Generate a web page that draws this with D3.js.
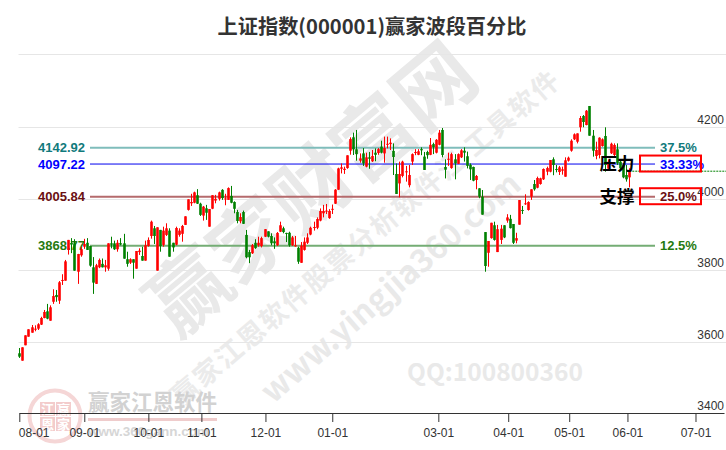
<!DOCTYPE html>
<html><head><meta charset="utf-8">
<script src="https://cdn.jsdelivr.net/npm/d3@7/dist/d3.min.js"></script>
<style>html,body{margin:0;padding:0;background:#fff}svg{display:block}</style>
</head><body><div id="c"></div>
<script>
const opens=[3567.9,3547.2,3590.3,3614.3,3625.5,3635,3636.7,3648,3666.6,3685.3,3659,3712,3731,3715,3771,3771,3857,3876.4,3875.5,3796,3842,3866,3877,3868,3808.4,3762,3808.4,3818,3808.4,3804.5,3875.5,3875.5,3858.8,3876,3875.5,3831,3821.3,3831,3804.5,3851,3840,3827,3868,3896,3917.5,3799,3913,3871,3899,3911,3877,3871.6,3899,3902,3927,3969,3987.4,3989,4010,3986.3,3953,3973.4,3922,3972.3,3995,4000,4025,3998.6,3997,4008,3991,3963,3937,3963,3899,3851,3847.6,3877,3870,3868,3894,3909,3896,3881,3870,3908,3917.5,3904.5,3905,3870,3867,3863,3821,3857,3877,3900,3918.3,3919,3939,3959.5,3964,3946,3971,3986.3,4025.5,4084,4080.6,4086,4134.5,4172,4138.5,4106.6,4127,4090,4116,4105,4129,4128,4146,4127,4151,4153,4134,4069.4,4043,4064,4074,4038,4104,4128,4123,4139,4118,4131,4123,4153,4129,4151,4192.5,4089,4110.5,4086,4110.5,4098,4116,4134.5,4119,4095,4089,4052.6,4029.4,4006,3907,3849,3890,3926,3851,3885,3926,3939,3944,3929.5,3883,3927.6,3968.7,3985.5,3968.7,4006,4041.4,4031,4041.4,4054.5,4075.8,4075.8,4110.5,4083.4,4075,4078.6,4061.8,4106.6,4134.5,4166.4,4159.7,4200,4231.6,4206.4,4259.6,4176.5,4119.7,4122.5,4147.7,4175.7,4084.2,4127.3,4122.5,4138.5,4103.8,4094.6,4066.6,4060];
const closes=[3558.4,3584.6,3618.2,3635,3640.6,3636.7,3649,3666.6,3683.4,3664.7,3696.5,3728,3725,3766.5,3773,3825,3885,3872,3799,3845.6,3859,3873.6,3857,3813,3765.5,3814,3829,3808.4,3814,3875.5,3871.6,3858.8,3877,3872,3832.5,3818,3831,3821.3,3854,3855,3827,3870,3885,3936,3896,3920.3,3868,3911,3917.5,3838,3864,3918.3,3911,3924,3951,3998.6,3991,4018,3986.3,3955,3978,3961,3971.5,4010,4000,4018,4002,4001,4030,3989,3972,3938,3949,3930,3836.4,3836.4,3870,3862,3877,3890,3915,3894,3875.5,3875.5,3904.5,3926,3907,3902.5,3870,3892,3870,3824,3869,3880,3892,3919,3921,3943.5,3966,3966,3967,3966,3972,4025.5,4085,4088,4084,4121.7,4167,4138.5,4125,4113,4099,4116,4112,4119.7,4123,4139,4129,4142,4154,4157,4117,4013.5,4069.4,4104,4077,4066.6,4125,4131,4133,4135.6,4080.6,4122,4151,4144,4165,4185,4122.5,4081.4,4112,4125,4099,4125,4135.6,4129,4092,4082.5,4050.6,4063.8,4006,3955.6,3812,3882,3933,3885,3915,3916.4,3892,3948,3918,3877,3890,3996.6,3967,3987.4,3991,4026.6,4026.6,4058.2,4057.3,4083.4,4086,4108.5,4094.6,4081.4,4088,4082.5,4107.7,4115,4162.5,4180.4,4183,4226,4214.8,4246.4,4176.5,4134.5,4136.5,4170.9,4166.4,4094.6,4103.8,4154,4150.5,4099.3,4085.3,4060,4054.5,4078.6];
const highs=[3582.7,3584.6,3618.2,3635,3647,3646,3652,3670,3689,3706,3702,3747,3745,3770,3789,3829,3885,3890,3887,3846,3866,3888,3890,3868,3837,3818,3833,3833,3829,3875.5,3894,3883,3885,3890,3902,3852,3833.6,3831,3854,3861.5,3866,3883,3892,3939,3924,3920.3,3913,3922,3931.5,3917.5,3877,3922,3917.5,3927,3951,3998.6,4014,4020,4027,3989,3980,3983,3971.5,4010,4011,4020,4027,4014,4032,4036,3993,3969,3959.5,3967,3913,3857,3873.6,3887,3894,3894,3915,3909,3903.5,3892,3907,3936,3922,3905,3908,3896,3896,3866,3879,3892,3903.5,3922,3936,3948,3973,3983,3985.5,3971,3984,4027,4087,4099,4090,4121.7,4172,4185,4192.5,4127,4142,4129,4131,4136.5,4141,4142,4162.5,4174,4174,4169,4155,4099,4104,4106.6,4092,4094.6,4127,4139,4139,4144,4131,4134.5,4170,4157,4167,4192.5,4198,4110.5,4129,4129,4125,4127,4139,4144,4132,4099,4090,4066.6,4029.4,4024.6,3907,3882,3933,3936,3927,3927,3926,3957,3955,3929.5,3905,3996.6,3980,4012.6,3993,4026.6,4052.6,4062,4059,4085,4090,4108.5,4116,4094.6,4092,4090,4116,4118,4166.4,4183,4183,4231.6,4234.4,4248.4,4259.6,4192.5,4159.7,4172,4169,4200,4108.5,4157,4155,4155,4108.5,4099.3,4094.6,4085.3];
const lows=[3554.8,3547.2,3590.3,3614.3,3625.5,3629.4,3633,3647,3665.7,3663,3659,3706,3712,3706,3759,3771,3844,3848,3799,3762,3838,3860,3857,3810,3734,3762,3806,3808,3796,3799,3861.5,3857,3852,3870,3832.5,3810,3817.7,3776.5,3804.5,3843,3827,3827,3866,3888.5,3873.6,3799,3852,3866,3896,3838,3852,3870,3894,3880,3927,3967,3980,3987.4,3985.5,3952,3939,3941,3922,3971,3987.4,3995,3997,3982,3997,3987.4,3959.5,3931.5,3931.5,3929.5,3833.6,3820,3845.6,3860,3866,3864,3893,3892,3870,3860,3868,3907,3903.5,3879,3866,3868,3866,3818,3821,3855,3873.6,3898,3911,3915,3937,3948,3957.5,3944,3957.5,3985.5,4025,4071,4069.6,4084,4123.4,4122.5,4106.6,4101,4092,4088,4084,4103,4105,4123,4127,4101,4141,4136.5,4066.5,4013.5,4004,4060,4048,4032,4094.6,4122,4122,4122,4080.6,4112,4122,4125,4127,4149.6,4116,4057,4092,4084,4054.5,4097,4114,4104,4085,4052.6,4049,4026.6,4001.5,3955.6,3796,3810,3888.4,3883,3851,3873.6,3890,3933,3917,3873.6,3875.5,3927.6,3957.5,3983,3967,3997,4022.7,4029.4,4039.5,4052.6,4066,4074,4066,4074,4066.6,4067.5,4061.8,4104,4131.7,4164.5,4155,4187.7,4200,4205.5,4176.5,4117.8,4110.5,4113,4145.8,4075.8,4078,4125.3,4117.8,4094.6,4080.6,4057.4,4048,4032];

const tickLabels=["08-01","09-01","10-01","11-01","12-01","01-01","03-01","04-01","05-01","06-01","07-01"];
const tickPositions=[0,21.2,42.1,59.4,80.3,102.1,136.7,159.5,179.4,198.4,220.6];
const gridValues=[4404,4200,4000,3800,3600,3400];
const yLabels=[4200,4000,3800,3600,3400];
const levelValues=[4142.92,4097.22,4005.84,3868.77];
const levelNames=["4142.92","4097.22","4005.84","3868.77"];
const levelPcts=["37.5%","33.33%","25.0%","12.5%"];
const levelLine=["#7fbdbb","#0000ee","#b56a6c","#74ad74"];
const levelText=["#117a7c","#0000ff","#6a0f12","#267a10"];
const levelWidth=[2,1,2,2];

const W=726,H=450;
const svg=d3.select("#c").append("svg").attr("width",W).attr("height",H);
const x=d3.scaleLinear().domain([0,229.9]).range([19.3,724]);
const y=d3.scaleLinear().domain([3400,4200]).range([413.3,127.3]);
const sans="'Liberation Sans',Arial,sans-serif", cjk="'Noto Sans CJK SC','Noto Sans',sans-serif";

// watermarks
const wm=svg.append("g").attr("font-family",cjk).attr("font-weight",700).attr("fill","#e9e9e9").attr("text-anchor","middle");
wm.append("text").attr("transform","translate(330,211) rotate(-40)").attr("font-size",80).text("赢家财富网");
wm.append("text").attr("transform","translate(372,245) rotate(-40.4)").attr("font-size",27).attr("letter-spacing",2).attr("fill","#ebebeb").style("white-space","pre").text("赢家江恩软件股票分析软件江 工具软件");
wm.append("text").attr("transform","translate(398,296) rotate(-41)").attr("font-size",32).text("www.yingjia360.com");
wm.append("text").attr("x",495).attr("y",381).attr("font-size",24.5).text("QQ:100800360");

// logo
const lg=svg.append("g").attr("font-family",cjk).attr("font-weight",700);
lg.append("circle").attr("cx",55).attr("cy",416).attr("r",25.5).attr("fill","none").attr("stroke","#f5d6d6").attr("stroke-width",4);
[[40,402,"江"],[56,402,"赢"],[40,417,"恩"],[56,417,"家"]].forEach(d=>{
  lg.append("rect").attr("x",d[0]).attr("y",d[1]).attr("width",15).attr("height",14).attr("fill","#f3cccc");
  lg.append("text").attr("x",d[0]+7.5).attr("y",d[1]+12).attr("text-anchor","middle").attr("font-size",13).attr("fill","#fff").text(d[2]);
});
lg.append("text").attr("x",88).attr("y",410).attr("font-size",21.5).attr("fill","#d2d2d2").text("赢家江恩软件");
lg.append("rect").attr("x",88).attr("y",418).attr("width",129).attr("height",3).attr("fill","#efcccc");
lg.append("text").attr("x",88).attr("y",436).attr("font-size",13.5).attr("fill","#d6d6d6").attr("font-family",sans).text("www.360gann.com");

// title
svg.append("text").attr("x",372).attr("y",34).attr("text-anchor","middle").attr("font-family",cjk).attr("font-weight",700).attr("font-size",20.2).attr("fill","#333").text("上证指数(000001)赢家波段百分比");

// grid
svg.append("g").selectAll("line").data(gridValues).join("line")
 .attr("x1",18.5).attr("x2",726).attr("y1",d=>Math.round(y(d))+.5).attr("y2",d=>Math.round(y(d))+.5)
 .attr("stroke",d=>d===3400?"none":"#e6e6e6").attr("stroke-width",1);
svg.append("g").selectAll("text").data(yLabels).join("text")
 .attr("x",724).attr("y",d=>y(d)-3).attr("text-anchor","end").attr("font-family",sans).attr("font-size",12).attr("fill","#333").text(d=>d);

// x axis
const ax=svg.append("g").attr("transform","translate(0,413)").call(d3.axisBottom(x).tickValues(tickPositions).tickSize(9).tickSizeOuter(0).tickPadding(6).tickFormat((d,i)=>tickLabels[i]));
ax.selectAll("text").attr("font-family",sans).attr("font-size",12).attr("fill","#333");
ax.selectAll("path,line").attr("stroke","#333");
ax.select(".tick text").attr("text-anchor","start").attr("x",-1);

// levels
const lev=svg.append("g");
lev.selectAll("line").data(levelValues).join("line")
 .attr("x1",90).attr("x2",655).attr("y1",d=>y(d)).attr("y2",d=>y(d))
 .attr("stroke",(d,i)=>levelLine[i]).attr("stroke-width",(d,i)=>levelWidth[i]);
lev.selectAll("text.n").data(levelValues).join("text").attr("class","n")
 .attr("x",85).attr("y",d=>y(d)+4.5).attr("text-anchor","end").attr("font-family",sans).attr("font-weight",700).attr("font-size",13)
 .attr("fill",(d,i)=>levelText[i]).text((d,i)=>levelNames[i]);

// last price
const lastClose=closes[closes.length-1];
svg.append("line").attr("x1",x(closes.length-1)).attr("x2",726).attr("y1",y(lastClose)+.5).attr("y2",y(lastClose)+.5)
 .attr("stroke","#008000").attr("stroke-dasharray","2,1");

// candles
const idx=d3.range(opens.length);
const col=i=>closes[i]>=opens[i]?"#ff0000":"#008000";
const cg=svg.append("g");
cg.selectAll("line").data(idx).join("line")
 .attr("x1",i=>Math.round(x(i))+.5).attr("x2",i=>Math.round(x(i))+.5)
 .attr("y1",i=>y(highs[i])).attr("y2",i=>y(lows[i])).attr("stroke",col);
cg.selectAll("rect").data(idx).join("rect")
 .attr("x",i=>Math.round(x(i))-.8).attr("width",2.6)
 .attr("y",i=>y(Math.max(opens[i],closes[i])))
 .attr("height",i=>Math.max(1,Math.abs(y(opens[i])-y(closes[i])))).attr("fill",col);

// pct labels
svg.append("g").selectAll("text").data(levelValues).join("text")
 .attr("x",660).attr("y",d=>y(d)+4.5).attr("font-family",sans).attr("font-weight",700).attr("font-size",13)
 .attr("fill",(d,i)=>levelText[i]).text((d,i)=>levelPcts[i]);

// annotation boxes
const zones=[[y(4097.22)-8.5,"压力",y(4097.22)+5.5],[y(4005.84)-8.5,"支撑",y(4005.84)+6.5]];
svg.append("g").selectAll("rect").data(zones).join("rect")
 .attr("x",640).attr("y",d=>d[0]).attr("width",61).attr("height",16).attr("fill","none").attr("stroke","#ff0000").attr("stroke-width",2);
svg.append("g").selectAll("text").data(zones).join("text")
 .attr("x",617).attr("y",d=>d[2]).attr("text-anchor","middle").attr("font-family",cjk).attr("font-weight",700).attr("font-size",17.5).attr("fill","#000").text(d=>d[1]);
</script></body></html>
